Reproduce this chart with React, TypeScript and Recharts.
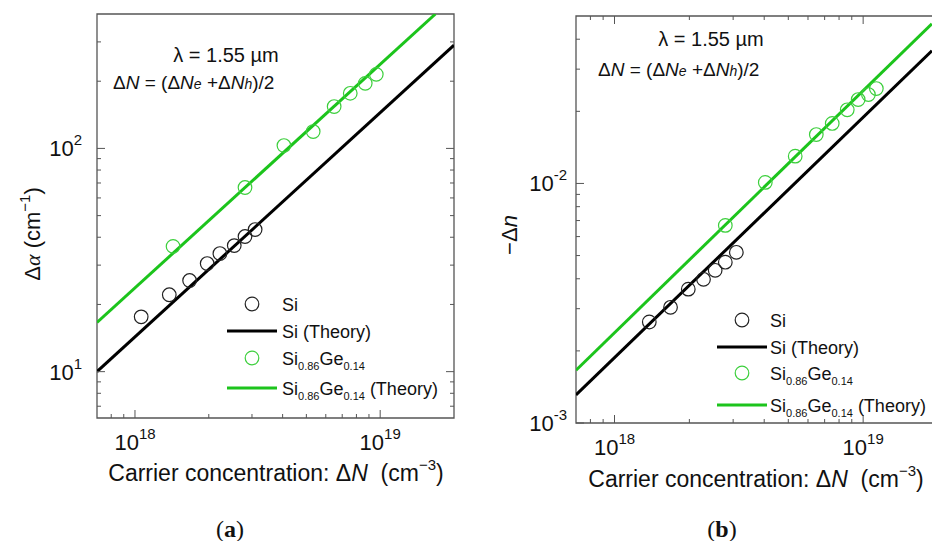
import React from "react";
import {
  ComposedChart,
  Scatter,
  XAxis,
  YAxis,
  ReferenceArea,
  Legend
} from "recharts";

// ---- panel (a): absorption change vs carrier concentration
const siAlphaN = [1.06e18, 1.38e18, 1.67e18, 1.97e18, 2.22e18, 2.54e18, 2.81e18, 3.09e18];
const siAlpha = [17.6, 22.1, 25.6, 30.5, 33.8, 36.7, 40.3, 43.3];
const sigeAlphaN = [1.43e18, 2.81e18, 4.05e18, 5.33e18, 6.49e18, 7.55e18, 8.69e18, 9.64e18];
const sigeAlpha = [36.4, 66.8, 103, 119, 154, 176.5, 195.6, 214.6];
const siAlphaTheoryN = [7e17, 2e19];
const siAlphaTheory = [10, 290];
const sigeAlphaTheoryN = [7e17, 1.68e19];
const sigeAlphaTheory = [16.6, 400];

// ---- panel (b): refractive index change vs carrier concentration
const siDnN = [1.38e18, 1.68e18, 1.98e18, 2.28e18, 2.54e18, 2.79e18, 3.09e18];
const siDn = [2.64e-3, 3.04e-3, 3.62e-3, 3.98e-3, 4.34e-3, 4.69e-3, 5.16e-3];
const sigeDnN = [2.79e18, 4.04e18, 5.33e18, 6.48e18, 7.51e18, 8.63e18, 9.55e18, 1.05e19, 1.13e19];
const sigeDn = [6.68e-3, 1.01e-2, 1.3e-2, 1.6e-2, 1.78e-2, 2.03e-2, 2.24e-2, 2.35e-2, 2.49e-2];
const siDnTheoryN = [7e17, 1.89e19];
const siDnTheory = [1.31e-3, 3.58e-2];
const sigeDnTheoryN = [7e17, 1.89e19];
const sigeDnTheory = [1.66e-3, 4.64e-2];

// ---- ticks
const xTicks = [8e17, 9e17, 1e18, 2e18, 3e18, 4e18, 5e18, 6e18, 7e18, 8e18, 9e18, 1e19];
const xMajor = [1e18, 1e19];
const yTicksA = [7, 8, 9, 10, 20, 30, 40, 50, 60, 70, 80, 90, 100, 200, 300];
const yMajorA = [10, 100];
const yTicksB = [2e-3, 3e-3, 4e-3, 5e-3, 6e-3, 7e-3, 8e-3, 9e-3, 1e-2, 2e-2, 3e-2, 4e-2];
const yMajorB = [1e-3, 1e-2];

const FONT = "'Liberation Sans', Arial, sans-serif";
const SERIF = "'Liberation Serif', 'DejaVu Serif', serif";
const FRAME = "#555";
const GREEN = "#1cc41c";
const GREEN_PT = "#3ccf3c";

const zip = (xs: number[], ys: number[]) => xs.map((n, i) => ({ n, v: ys[i] }));

const isMajor = (list: number[], v: number) => list.some(m => Math.abs(m - v) / m < 1e-6);

const makeXTick = (topOffset: number | null, labelDy: number) => (props: any) => {
  const { x, y, payload } = props;
  const v = payload.value;
  const major = isMajor(xMajor, v);
  const len = major ? 8 : 4;
  return (
    <g>
      <line x1={x} x2={x} y1={y} y2={y - len} stroke={FRAME} />
      {topOffset !== null && (
        <line x1={x} x2={x} y1={y - topOffset} y2={y - topOffset + len} stroke={FRAME} />
      )}
      {major && (
        <text x={x} y={y + labelDy} textAnchor="middle" fontFamily={FONT} fontSize={22} fill="#111">
          10
          <tspan dy={-11} fontSize={15}>{Math.round(Math.log10(v))}</tspan>
        </text>
      )}
    </g>
  );
};

const makeYTick = (majors: number[], rightOffset: number | null, gap: number) => (props: any) => {
  const { x, y, payload } = props;
  const v = payload.value;
  const major = isMajor(majors, v);
  const len = major ? 8 : 4;
  return (
    <g>
      <line x1={x} x2={x + len} y1={y} y2={y} stroke={FRAME} />
      {rightOffset !== null && (
        <line x1={x + rightOffset} x2={x + rightOffset - len} y1={y} y2={y} stroke={FRAME} />
      )}
      {major && (
        <text x={x - gap} y={y + 8} textAnchor="end" fontFamily={FONT} fontSize={22} fill="#111">
          10
          <tspan dy={-11} fontSize={15}>{Math.round(Math.log10(v))}</tspan>
        </text>
      )}
    </g>
  );
};

const circleShape = (color: string) => (props: any) => (
  <circle cx={props.cx} cy={props.cy} r={6.8} fill="none" stroke={color} strokeWidth={1.2} />
);
const noShape = () => <g />;

type Seg = { t: string; sub?: boolean };
const legendRows: { kind: "circle" | "line"; color: string; label: Seg[] }[] = [
  { kind: "circle", color: "#222", label: [{ t: "Si" }] },
  { kind: "line", color: "#000", label: [{ t: "Si (Theory)" }] },
  { kind: "circle", color: GREEN_PT, label: [{ t: "Si" }, { t: "0.86", sub: true }, { t: "Ge" }, { t: "0.14", sub: true }] },
  {
    kind: "line",
    color: GREEN,
    label: [{ t: "Si" }, { t: "0.86", sub: true }, { t: "Ge" }, { t: "0.14", sub: true }, { t: "\u00a0(Theory)" }]
  }
];

const LegendBox = ({ rowsY, textX }: { rowsY: number[]; textX: number }) => (
  <svg width={250} height={125} style={{ display: "block", overflow: "visible" }}>
    {legendRows.map((r, i) => {
      const y = rowsY[i];
      return (
        <g key={i}>
          {r.kind === "circle" ? (
            <circle cx={32} cy={y} r={6.8} fill="none" stroke={r.color} strokeWidth={1.2} />
          ) : (
            <line x1={7} x2={57} y1={y} y2={y} stroke={r.color} strokeWidth={3} />
          )}
          <text x={textX} y={y + 6.5} fontFamily={FONT} fontSize={18} fill="#111">
            {r.label.map((s, k) =>
              s.sub ? (
                <tspan key={k} fontSize={11} dy={5}>{s.t}</tspan>
              ) : (
                <tspan key={k} fontSize={18} dy={k > 0 && r.label[k - 1].sub ? -5 : 0}>{s.t}</tspan>
              )
            )}
          </text>
        </g>
      );
    })}
  </svg>
);

const ChartA = () => (
  <ComposedChart width={470} height={541} margin={{ top: 14, right: 16, left: 0, bottom: 0 }}>
    <XAxis
      type="number"
      dataKey="n"
      scale="log"
      domain={[7e17, 2e19]}
      allowDataOverflow
      ticks={xTicks}
      interval={0}
      tickSize={0}
      tickMargin={0}
      axisLine={false}
      tickLine={false}
      height={123}
      tick={makeXTick(null, 32)}
    />
    <YAxis
      type="number"
      dataKey="v"
      scale="log"
      domain={[6.2, 400]}
      allowDataOverflow
      ticks={yTicksA}
      interval={0}
      tickSize={0}
      tickMargin={0}
      axisLine={false}
      tickLine={false}
      width={97}
      tick={makeYTick(yMajorA, 357, 15)}
    />
    <ReferenceArea x1={7e17} x2={2e19} y1={6.2} y2={400} fill="none" stroke={FRAME} strokeWidth={1.3} />
    <Scatter
      data={zip(siAlphaTheoryN, siAlphaTheory)}
      fill="#000"
      line={{ stroke: "#000", strokeWidth: 3 }}
      shape={noShape}
      isAnimationActive={false}
    />
    <Scatter
      data={zip(sigeAlphaTheoryN, sigeAlphaTheory)}
      fill={GREEN}
      line={{ stroke: GREEN, strokeWidth: 3 }}
      shape={noShape}
      isAnimationActive={false}
    />
    <Scatter data={zip(siAlphaN, siAlpha)} shape={circleShape("#222")} isAnimationActive={false} />
    <Scatter data={zip(sigeAlphaN, sigeAlpha)} shape={circleShape(GREEN_PT)} isAnimationActive={false} />
    <Legend
      layout="horizontal"
      verticalAlign="middle"
      align="center"
      wrapperStyle={{ left: 220, top: 285, width: 250, height: 125 }}
      content={() => <LegendBox rowsY={[19, 46, 73, 103]} textX={62} />}
    />
  </ComposedChart>
);

const ChartB = () => (
  <ComposedChart width={468} height={541} margin={{ top: 16, right: 0, left: 0, bottom: 0 }}>
    <XAxis
      type="number"
      dataKey="n"
      scale="log"
      domain={[7e17, 2e19]}
      allowDataOverflow
      ticks={xTicks}
      interval={0}
      tickSize={0}
      tickMargin={0}
      axisLine={false}
      tickLine={false}
      height={118}
      tick={makeXTick(407, 32)}
    />
    <YAxis
      type="number"
      dataKey="v"
      scale="log"
      domain={[1e-3, 5e-2]}
      allowDataOverflow
      ticks={[1e-3, ...yTicksB]}
      interval={0}
      tickSize={0}
      tickMargin={0}
      axisLine={false}
      tickLine={false}
      width={106}
      tick={makeYTick(yMajorB, null, 9)}
    />
    <ReferenceArea x1={7e17} x2={2e19} y1={1e-3} y2={5e-2} fill="none" stroke={FRAME} strokeWidth={1.3} />
    <Scatter
      data={zip(siDnTheoryN, siDnTheory)}
      fill="#000"
      line={{ stroke: "#000", strokeWidth: 3 }}
      shape={noShape}
      isAnimationActive={false}
    />
    <Scatter
      data={zip(sigeDnTheoryN, sigeDnTheory)}
      fill={GREEN}
      line={{ stroke: GREEN, strokeWidth: 3 }}
      shape={noShape}
      isAnimationActive={false}
    />
    <Scatter data={zip(siDnN, siDn)} shape={circleShape("#222")} isAnimationActive={false} />
    <Scatter data={zip(sigeDnN, sigeDn)} shape={circleShape(GREEN_PT)} isAnimationActive={false} />
    <Legend
      layout="horizontal"
      verticalAlign="middle"
      align="center"
      wrapperStyle={{ left: 240, top: 300, width: 250, height: 125 }}
      content={() => <LegendBox rowsY={[20, 47, 73, 105]} textX={60} />}
    />
  </ComposedChart>
);

const DeltaNFormula = ({ x, y }: { x: number; y: number }) => (
  <text x={x} y={y} fontFamily={FONT} fontSize={19} fill="#111">
    Δ<tspan fontStyle="italic">N</tspan>{"\u00a0= (Δ"}<tspan fontStyle="italic">N</tspan>
    <tspan fontStyle="italic" fontSize={14}>e</tspan>{"\u00a0+Δ"}<tspan fontStyle="italic">N</tspan>
    <tspan fontStyle="italic" fontSize={14}>h</tspan>)/2
  </text>
);

const XTitle = ({ x, y }: { x: number; y: number }) => (
  <text x={x} y={y} textAnchor="middle" fontFamily={FONT} fontSize={23} fill="#111">
    {"Carrier concentration: Δ"}<tspan fontStyle="italic">N</tspan>{"\u00a0\u00a0(cm"}
    <tspan dy={-11} fontSize={15}>−3</tspan>
    <tspan dy={11}>)</tspan>
  </text>
);

const Overlay = () => (
  <svg width={932} height={541} style={{ position: "absolute", left: 0, top: 0, pointerEvents: "none" }}>
    {/* annotations */}
    <text x={226} y={62} textAnchor="middle" fontFamily={FONT} fontSize={20} fill="#111">λ = 1.55 µm</text>
    <DeltaNFormula x={113} y={89} />
    <text x={711} y={46} textAnchor="middle" fontFamily={FONT} fontSize={20} fill="#111">λ = 1.55 µm</text>
    <DeltaNFormula x={598} y={76} />

    {/* axis titles */}
    <XTitle x={276} y={481} />
    <XTitle x={756} y={487} />
    <text x={40} y={234} transform="rotate(-90 40 234)" textAnchor="middle" fontFamily={FONT} fontSize={22} fill="#111">
      Δ<tspan fontStyle="italic" fontFamily={SERIF}>α</tspan>{"\u00a0(cm"}
      <tspan dy={-10} fontSize={15}>−1</tspan>
      <tspan dy={10}>)</tspan>
    </text>
    <text x={517} y={235} transform="rotate(-90 517 235)" textAnchor="middle" fontFamily={FONT} fontSize={22} fill="#111">
      −Δ<tspan fontStyle="italic">n</tspan>
    </text>

    {/* panel captions */}
    <text x={230} y={537} textAnchor="middle" fontFamily={SERIF} fontSize={24} fill="#111">
      (<tspan fontWeight="bold">a</tspan>)
    </text>
    <text x={722} y={537} textAnchor="middle" fontFamily={SERIF} fontSize={24} fill="#111">
      (<tspan fontWeight="bold">b</tspan>)
    </text>
  </svg>
);

export default function App() {
  return (
    <div
      style={{
        position: "fixed",
        left: 0,
        top: 0,
        width: 932,
        height: 541,
        overflow: "hidden",
        background: "#fff"
      }}
    >
      <div style={{ position: "absolute", left: 0, top: 0 }}>
        <ChartA />
      </div>
      <div style={{ position: "absolute", left: 470, top: 0 }}>
        <ChartB />
      </div>
      <Overlay />
    </div>
  );
}
